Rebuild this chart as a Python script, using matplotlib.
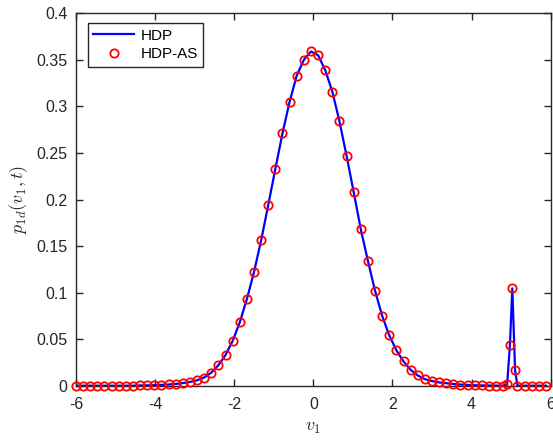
import matplotlib
matplotlib.use("Agg")
import matplotlib.pyplot as plt

# v1 grid values (HDP and HDP-AS share the same sample points)
v1 = [-6.00, -5.82, -5.64, -5.46, -5.28, -5.10, -4.92, -4.74, -4.56, -4.38,
      -4.20, -4.02, -3.84, -3.66, -3.48, -3.30, -3.12, -2.94, -2.76, -2.58,
      -2.40, -2.22, -2.04, -1.86, -1.68, -1.50, -1.32, -1.14, -0.96, -0.78,
      -0.60, -0.42, -0.24, -0.06, 0.12, 0.30, 0.48, 0.66, 0.84, 1.02,
      1.20, 1.38, 1.56, 1.74, 1.92, 2.10, 2.28, 2.46, 2.64, 2.82,
      3.00, 3.18, 3.36, 3.54, 3.72, 3.90, 4.08, 4.26, 4.44, 4.62,
      4.80, 4.90, 4.97, 5.03, 5.10, 5.16, 5.34, 5.52, 5.70, 5.88]

p_hdp = [0.0, 0.0, 0.0, 0.0, 0.0, 0.0, 0.0, 0.0, 0.0, 0.0003,
         0.0004, 0.0006, 0.0009, 0.0013, 0.0019, 0.0028, 0.0040, 0.0058, 0.0088, 0.0140,
         0.0220, 0.0330, 0.0480, 0.0680, 0.0930, 0.1220, 0.1560, 0.1940, 0.2330, 0.2710,
         0.3050, 0.3330, 0.3500, 0.3590, 0.3550, 0.3390, 0.3160, 0.2840, 0.2470, 0.2080,
         0.1680, 0.1340, 0.1020, 0.0750, 0.0540, 0.0380, 0.0260, 0.0170, 0.0110, 0.0070,
         0.0050, 0.0035, 0.0027, 0.0018, 0.0012, 0.0008, 0.0005, 0.0003, 0.0002, 0.0001,
         0.0, 0.0015, 0.0440, 0.1045, 0.0165, 0.0, 0.0, 0.0, 0.0, 0.0]

p_hdp_as = list(p_hdp)

plt.rcParams['font.family'] = ['Liberation Sans', 'DejaVu Sans']
plt.rcParams['mathtext.fontset'] = 'cm'
plt.rcParams['axes.unicode_minus'] = False

fig = plt.figure(figsize=(5.53, 4.41), dpi=100)
ax = fig.add_axes([0.1374, 0.1254, 0.9958 - 0.1374, 0.9698 - 0.1254])

ax.plot(v1, p_hdp, '-', color=(0, 0, 1), lw=1.6, label='HDP', zorder=2)
ax.plot(v1, p_hdp_as, 'o', mfc='none', mec=(1, 0, 0), ms=6, mew=1.3,
        label='HDP-AS', zorder=3, clip_on=False)

ax.set_xlim(-6, 6)
ax.set_ylim(0, 0.4)
ax.set_xticks([-6, -4, -2, 0, 2, 4, 6])
ax.set_yticks([0, 0.05, 0.1, 0.15, 0.2, 0.25, 0.3, 0.35, 0.4])
ax.set_yticklabels(['0', '0.05', '0.1', '0.15', '0.2', '0.25', '0.3', '0.35', '0.4'])

dark = '#262626'
for s in ax.spines.values():
    s.set_color(dark)
    s.set_linewidth(1.0)
ax.tick_params(direction='in', length=5, width=1.0, colors=dark,
               labelsize=11.5, top=True, right=True)
ax.tick_params(axis='x', pad=8)
ax.tick_params(axis='y', pad=6)

ax.set_xlabel('$v_1$', fontsize=13, color=dark, labelpad=5)
ax.set_ylabel('$p_{1d}(v_1,t)$', fontsize=13, color=dark, labelpad=5)

leg = ax.legend(loc='upper left', bbox_to_anchor=(0.015, 0.985), fontsize=11,
                frameon=True, fancybox=False, edgecolor=dark, framealpha=1,
                handlelength=2.7, borderpad=0.35, labelspacing=0.3,
                handletextpad=0.4, borderaxespad=0.3)
leg.get_frame().set_linewidth(1.0)

fig.savefig('out.png', dpi=100)
